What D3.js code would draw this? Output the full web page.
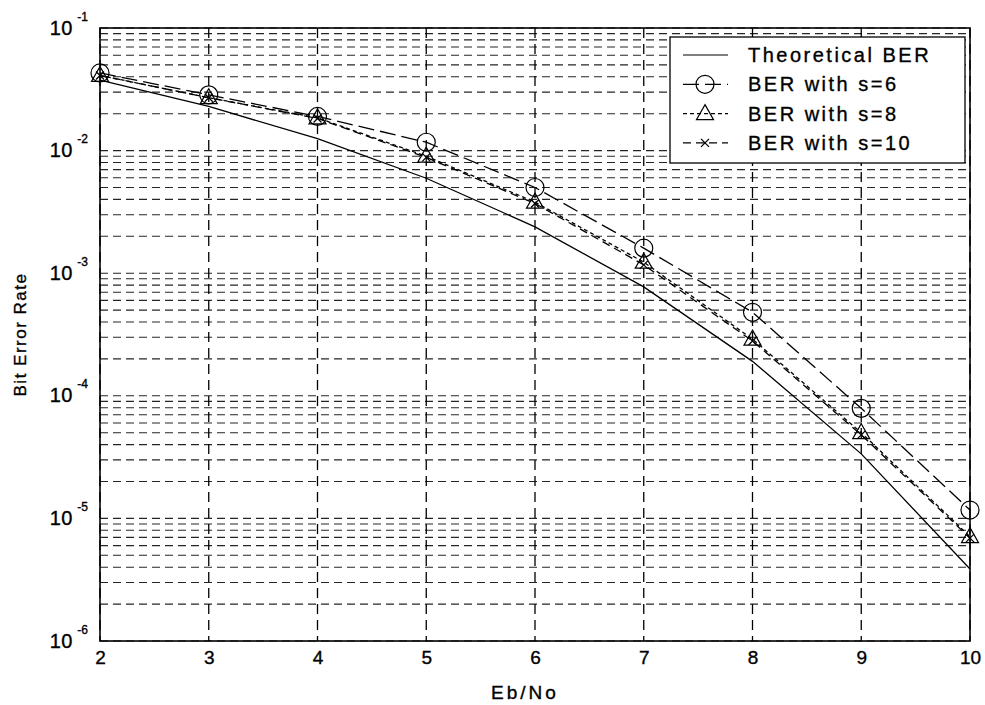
<!DOCTYPE html>
<html><head><meta charset="utf-8">
<script src="https://cdn.jsdelivr.net/npm/d3@7"></script>
<style>body{margin:0;background:#fff}text{font-family:"Liberation Sans",Arial,sans-serif;fill:#000;stroke:#000;stroke-width:0.35px}</style>
</head><body><svg id="c" width="985" height="705"></svg>
<script>
const ebno = [2,3,4,5,6,7,8,9,10];
const berTheory = [0.0375,0.0229,0.0125,0.00595,0.00239,0.000773,0.000191,0.0000336,0.00000387];
const berS6 = [0.043,0.0285,0.019,0.0117,0.0050,0.0016,0.00048,0.000079,0.0000117];
const berS8 = [0.041,0.027,0.0185,0.0090,0.0038,0.00123,0.00029,0.000050,0.0000071];
const berS10 = [0.041,0.027,0.0183,0.0088,0.0037,0.00117,0.00028,0.000048,0.0000069];
const xTicks = [2,3,4,5,6,7,8,9,10];
const yExps = [-1,-2,-3,-4,-5,-6];
const legendLabels = ["Theoretical BER","BER with s=6","BER with s=8","BER with s=10"];

const svg = d3.select("#c");
const L=100,R=970,T=28,B=641;
const x = d3.scaleLinear().domain([2,10]).range([L,R]);
const y = d3.scaleLog().domain([1e-6,1e-1]).range([B,T]);

const g = svg.append("g");
// grid
const minor=[];
for(let e=-6;e<-1;e++){for(let k=1;k<10;k++){minor.push(k*Math.pow(10,e));}}
minor.push(0.1);
g.selectAll(".hg").data(minor).join("line")
 .attr("x1",L).attr("x2",R).attr("y1",d=>y(d)).attr("y2",d=>y(d))
 .attr("stroke","#000").attr("stroke-width",1.1).attr("stroke-dasharray","8,5").attr("opacity",0.85);
g.selectAll(".vg").data(xTicks).join("line")
 .attr("x1",d=>x(d)).attr("x2",d=>x(d)).attr("y1",T).attr("y2",B)
 .attr("stroke","#000").attr("stroke-width",1.3).attr("stroke-dasharray","10,6");

// axes
const xAxis = d3.axisBottom(x).tickValues(xTicks).tickSize(0).tickPadding(10).tickFormat(d3.format("d"));
const xa = svg.append("g").attr("transform",`translate(0,${B})`).call(xAxis);
xa.select(".domain").remove();
xa.selectAll("text").attr("font-size",19).style("font-family","Liberation Sans, Arial, sans-serif");
const yAxis = d3.axisLeft(y).tickValues(yExps.map(e=>Math.pow(10,e))).tickSize(0).tickFormat("");
const ya = svg.append("g").attr("transform",`translate(${L},0)`).call(yAxis);
ya.select(".domain").remove();
ya.selectAll(".tick").each(function(d){
  const e=Math.round(Math.log10(d));
  d3.select(this).append("text").attr("x",-27).attr("y",6).attr("text-anchor","end").attr("font-size",20).attr("letter-spacing",0.5).text("10");
  d3.select(this).append("text").attr("x",-12).attr("y",-8).attr("text-anchor","end").attr("font-size",12).text(String(e));
});
// frame
svg.append("rect").attr("x",L).attr("y",T).attr("width",R-L).attr("height",B-T)
 .attr("fill","none").attr("stroke","#000").attr("stroke-width",1.6);

// labels
svg.append("text").attr("x",525).attr("y",699).attr("text-anchor","middle").attr("font-size",19).attr("letter-spacing",3).text("Eb/No");
svg.append("text").attr("transform",`translate(26,${(T+B)/2}) rotate(-90)`).attr("text-anchor","middle").attr("font-size",17).attr("letter-spacing",1.5).text("Bit Error Rate");

const line = d3.line().x((d,i)=>x(ebno[i])).y(d=>y(d));
const series = [
 {v:berTheory,dash:null,marker:null},
 {v:berS6,dash:"16,6",marker:"circle"},
 {v:berS8,dash:"4,3",marker:"tri"},
 {v:berS10,dash:"8,5",marker:"x"}
];
function drawMarker(sel,type,cx,cy){
  if(type==="circle") sel.append("circle").attr("cx",cx).attr("cy",cy).attr("r",9).attr("fill","none").attr("stroke","#000").attr("stroke-width",1.2);
  else if(type==="tri") sel.append("path").attr("d",`M${cx},${cy-9}L${cx+8.5},${cy+6}L${cx-8.5},${cy+6}Z`).attr("fill","none").attr("stroke","#000").attr("stroke-width",1.2);
  else if(type==="x") sel.append("path").attr("d",`M${cx-4},${cy-4}L${cx+4},${cy+4}M${cx-4},${cy+4}L${cx+4},${cy-4}`).attr("stroke","#000").attr("stroke-width",1.3);
}
const sg = svg.append("g");
series.forEach(s=>{
  sg.append("path").datum(s.v).attr("d",line).attr("fill","none").attr("stroke","#000").attr("stroke-width",1.3)
    .attr("stroke-dasharray",s.dash);
  if(s.marker) s.v.forEach((v,i)=>drawMarker(sg,s.marker,x(ebno[i]),y(v)));
});

// legend
const lg = svg.append("g");
lg.append("rect").attr("x",670).attr("y",37).attr("width",295).attr("height",126).attr("fill","#fff").attr("stroke","#000").attr("stroke-width",1.3);
legendLabels.forEach((lab,i)=>{
  const cy=55+i*29.3;
  const s=series[i];
  lg.append("line").attr("x1",683).attr("x2",728).attr("y1",cy).attr("y2",cy).attr("stroke","#000").attr("stroke-width",1.2).attr("stroke-dasharray",s.dash);
  if(s.marker) drawMarker(lg,s.marker,705,cy);
  lg.append("text").attr("x",748).attr("y",cy+7).attr("font-size",20).attr("letter-spacing",2.5).text(lab);
});
</script></body></html>
